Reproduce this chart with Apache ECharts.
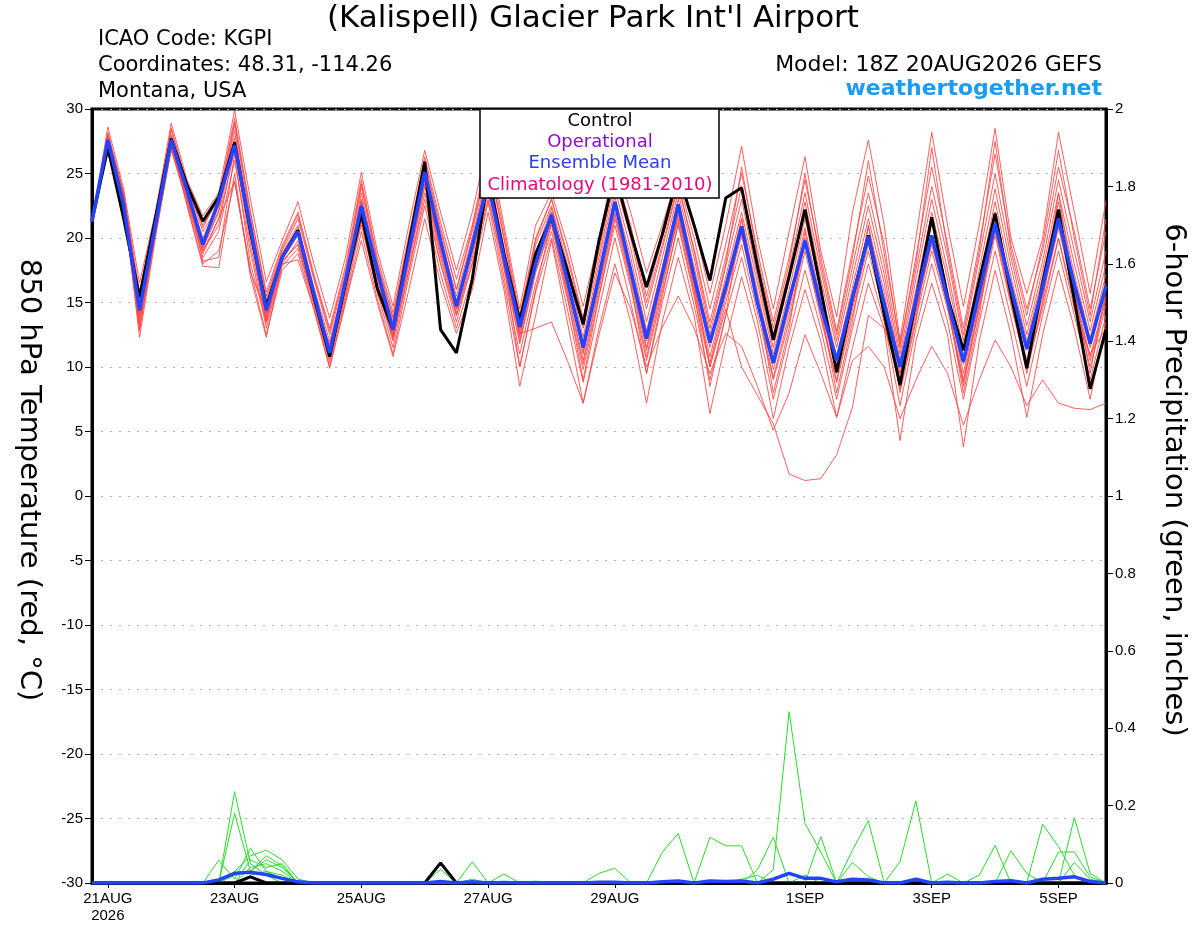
<html>
<head>
  <meta charset="utf-8">
  <title>KGPI GEFS 850 hPa</title>
  <script src="https://cdn.jsdelivr.net/npm/echarts@6/dist/echarts.min.js"></script>
</head>
<body style="margin:0;background:#fff;">
<div id="main" style="width:1200px;height:927px;"></div>
<script>
  // 6-hourly forecast times, 18Z 20AUG to 18Z 5SEP
  var times = [
    '18Z20AUG',
    '00Z21AUG','06Z21AUG','12Z21AUG','18Z21AUG',
    '00Z22AUG','06Z22AUG','12Z22AUG','18Z22AUG',
    '00Z23AUG','06Z23AUG','12Z23AUG','18Z23AUG',
    '00Z24AUG','06Z24AUG','12Z24AUG','18Z24AUG',
    '00Z25AUG','06Z25AUG','12Z25AUG','18Z25AUG',
    '00Z26AUG','06Z26AUG','12Z26AUG','18Z26AUG',
    '00Z27AUG','06Z27AUG','12Z27AUG','18Z27AUG',
    '00Z28AUG','06Z28AUG','12Z28AUG','18Z28AUG',
    '00Z29AUG','06Z29AUG','12Z29AUG','18Z29AUG',
    '00Z30AUG','06Z30AUG','12Z30AUG','18Z30AUG',
    '00Z31AUG','06Z31AUG','12Z31AUG','18Z31AUG',
    '00Z1SEP','06Z1SEP','12Z1SEP','18Z1SEP',
    '00Z2SEP','06Z2SEP','12Z2SEP','18Z2SEP',
    '00Z3SEP','06Z3SEP','12Z3SEP','18Z3SEP',
    '00Z4SEP','06Z4SEP','12Z4SEP','18Z4SEP',
    '00Z5SEP','06Z5SEP','12Z5SEP','18Z5SEP'
  ];

  var tickLabels = {
    '00Z21AUG': '21AUG\n2026',
    '00Z23AUG': '23AUG',
    '00Z25AUG': '25AUG',
    '00Z27AUG': '27AUG',
    '00Z29AUG': '29AUG',
    '00Z1SEP': '1SEP',
    '00Z3SEP': '3SEP',
    '00Z5SEP': '5SEP'
  };

  // 850 hPa temperature (C)
  var tempMean = [21.3,
    27.6,22.5,14.4,21.0, 27.6,23.7,19.5,22.9, 27.2,20.8,14.4,18.5, 20.5,15.7,11.1,16.7,
    22.5,17.5,12.9,19.0, 25.1,19.8,14.7,19.4, 24.3,18.5,13.1,18.0, 21.8,16.7,11.5,17.0,
    22.8,17.5,12.2,17.3, 22.6,17.0,11.9,16.2, 20.9,15.0,10.3,15.2, 19.8,14.7,10.5,15.4,
    20.1,14.9,10.0,15.2, 20.2,15.2,10.4,15.8, 21.1,16.2,11.4,16.2, 21.5,16.4,11.8,16.3];

  var tempControl = [21.3,
    27.0,21.5,15.4,21.5, 27.7,24.1,21.3,23.2, 27.4,20.5,14.7,18.5, 20.6,15.5,10.8,16.5,
    21.9,16.1,12.9,19.5, 25.9,12.9,11.1,16.8, 24.8,18.8,13.6,18.8, 21.6,17.5,13.3,19.8,
    25.0,20.4,16.2,20.3, 25.0,21.0,16.7,23.1, 23.9,17.8,12.1,17.0, 22.2,16.0,9.6,15.4,
    20.2,14.1,8.6,15.2, 21.6,15.4,11.3,16.7, 21.9,15.7,9.9,16.5, 22.2,15.2,8.3,12.9];

  var tempMembers = [
    [21.3, 28.6,23.8,16.5,22.0, 28.9,24.5,21.7,23.5, 29.9,23.0,16.6,19.8, 22.8,18.0,13.8,18.5,
      25.1,19.0,14.7,21.0, 26.8,22.0,17.5,22.0, 27.5,21.0,14.5,21.0, 23.5,19.5,14.7,20.0,
      26.0,22.0,17.3,21.0, 25.0,21.0,15.7,21.0, 27.1,20.0,14.5,20.5, 26.3,19.0,13.9,22.0,
      27.6,21.0,12.1,20.0, 28.2,21.0,14.7,21.0, 28.5,20.0,15.7,20.0, 28.2,22.0,15.7,22.9],
    [21.3, 28.2,23.5,15.8,21.8, 28.5,24.2,21.0,23.0, 29.3,22.0,15.8,19.4, 22.0,17.2,13.0,17.8,
      24.5,18.5,14.2,20.2, 26.3,21.2,16.8,21.0, 26.8,20.5,14.0,20.0, 23.0,18.8,13.8,19.5,
      25.2,21.0,15.5,20.0, 24.5,20.0,14.5,19.5, 25.0,19.0,13.5,18.5, 24.5,18.5,12.8,19.0,
      24.8,19.5,11.5,18.5, 25.5,19.5,13.0,19.5, 26.5,19.5,14.5,19.0, 25.5,20.5,14.5,20.5],
    [21.3, 27.9,23.2,15.0,21.5, 28.0,24.0,20.5,22.5, 28.8,21.5,15.2,19.0, 21.5,16.8,12.5,17.2,
      24.0,18.0,13.8,19.8, 25.8,20.5,16.0,20.5, 26.0,20.0,13.5,19.5, 22.5,18.0,13.0,18.5,
      24.5,20.0,14.5,19.2, 24.0,19.2,13.5,18.5, 24.0,18.0,12.5,17.5, 23.5,17.5,12.0,17.8,
      23.5,18.0,11.0,17.5, 24.0,18.5,12.0,18.5, 25.0,18.5,13.2,18.2, 24.5,19.0,13.5,19.0],
    [21.3, 27.6,23.0,14.6,21.2, 27.7,23.7,20.0,22.8, 28.3,21.0,14.8,18.8, 21.0,16.2,12.0,16.8,
      23.5,17.6,13.5,19.3, 25.3,20.0,15.5,20.0, 25.5,19.3,13.2,18.8, 22.3,17.5,12.3,18.0,
      23.8,19.2,13.5,18.5, 23.5,18.5,12.5,17.8, 23.0,17.0,11.5,16.8, 22.8,16.8,11.5,17.0,
      22.5,17.2,10.5,16.8, 23.0,17.5,11.3,17.5, 23.8,17.8,12.5,17.5, 23.5,18.0,12.8,18.0],
    [21.3, 27.3,22.8,14.0,21.0, 27.5,23.5,19.6,22.5, 27.8,20.5,14.2,18.5, 20.6,15.8,11.5,16.5,
      23.0,17.2,13.0,19.0, 25.0,19.5,15.0,19.5, 25.0,18.8,12.8,18.5, 22.0,17.0,11.8,17.5,
      23.2,18.5,12.8,17.8, 23.0,17.8,12.0,17.0, 22.0,16.5,11.0,16.0, 21.5,16.0,10.8,16.2,
      21.5,16.5,10.0,16.0, 22.0,16.8,10.8,16.8, 22.8,17.0,12.0,17.0, 22.8,17.2,12.2,17.2],
    [21.3, 27.0,22.6,13.5,20.7, 27.2,23.3,19.2,22.0, 27.3,20.0,13.8,18.3, 20.2,15.4,11.0,16.0,
      22.5,16.8,12.5,18.5, 24.5,19.0,14.5,19.0, 24.5,18.2,12.3,18.0, 21.5,16.5,11.2,17.0,
      22.5,17.8,12.0,17.2, 22.5,17.0,11.5,16.5, 21.5,15.8,10.5,15.2, 20.8,15.2,10.2,15.5,
      20.8,15.8,9.5,15.2, 21.2,16.0,10.2,16.0, 22.0,16.2,11.3,16.5, 22.0,16.5,11.5,16.5],
    [21.3, 26.8,22.5,13.0,20.5, 27.0,23.0,18.8,21.5, 26.8,19.5,13.4,18.0, 19.8,15.0,10.6,15.6,
      22.0,16.3,12.0,18.0, 24.0,18.5,14.0,18.5, 24.0,17.6,11.8,17.3, 21.0,16.0,10.5,16.3,
      22.0,17.0,11.3,16.5, 22.0,16.3,10.8,15.8, 20.5,15.0,9.8,14.5, 20.0,14.5,9.5,14.8,
      20.0,15.0,9.0,14.5, 20.2,15.3,9.5,15.3, 21.2,15.5,10.5,15.8, 21.0,15.8,10.8,15.5],
    [21.3, 26.6,22.5,12.8,20.2, 26.8,22.8,18.5,20.5, 26.0,19.0,13.0,17.8, 19.2,14.8,10.3,15.3,
      21.3,15.8,11.5,17.5, 23.5,18.0,13.5,18.0, 23.5,17.0,11.0,16.5, 20.5,15.3,9.8,15.5,
      21.0,16.2,10.5,15.8, 21.0,15.5,10.0,15.0, 19.5,14.2,9.0,13.5, 19.0,13.8,8.8,14.0,
      19.0,14.2,8.3,13.8, 19.0,14.5,8.8,14.5, 20.2,14.8,9.8,15.0, 20.0,15.0,10.0,14.8],
    [21.3, 26.8,22.7,12.3,20.0, 27.0,22.6,18.0,19.0, 24.4,17.5,12.5,17.5, 18.8,14.5,10.0,15.0,
      20.5,15.3,11.0,17.0, 22.5,17.2,13.0,17.0, 22.8,16.5,10.0,15.8, 20.0,14.5,8.8,14.5,
      20.0,15.0,9.5,15.0, 20.0,14.8,9.0,14.0, 18.5,13.5,7.5,12.5, 17.5,13.0,7.5,13.0,
      18.0,13.5,7.0,13.0, 18.0,13.5,7.5,13.5, 19.0,13.8,8.5,14.0, 19.0,14.0,9.0,14.0],
    [21.3, 27.2,22.9,13.2,20.5, 27.5,22.5,17.8,17.7, 25.0,17.0,12.3,18.0, 18.3,14.5,9.9,15.0,
      19.8,15.0,10.8,16.0, 21.5,16.5,12.6,16.0, 22.0,16.0,8.5,14.0, 19.8,13.5,7.2,13.0,
      18.0,13.5,7.2,13.5, 18.5,14.0,6.4,12.0, 17.0,12.5,6.0,11.5, 16.0,12.0,6.1,11.5,
      16.5,13.0,4.3,12.0, 16.5,12.5,3.8,12.0, 17.5,12.5,6.1,12.5, 17.5,13.0,7.5,13.5],
    [21.3, 27.5,23.3,14.2,21.0, 27.9,23.6,19.0,21.0, 27.0,21.0,14.0,18.7, 20.8,16.0,11.3,16.3,
      23.0,17.0,12.3,18.8, 24.8,19.5,14.8,19.3, 25.3,18.5,12.5,17.8, 22.0,16.8,11.0,16.8,
      22.8,17.5,11.5,16.8, 21.5,16.5,10.0,14.5, 10.0,7.8,5.6,1.7, 1.2,1.35,3.2,6.9,
      14.0,13.0,9.5,14.5, 19.5,14.8,9.0,15.0, 20.5,15.0,10.0,14.5, 20.0,14.5,11.0,13.0],
    [21.3, 27.0,23.0,14.8,21.2, 27.3,23.0,19.0,21.5, 24.4,17.3,14.3,18.2, 19.5,15.0,11.8,16.2,
      21.0,16.0,12.2,17.5, 23.0,18.0,14.0,18.0, 23.0,17.9,12.6,13.0, 13.5,10.5,7.2,12.5,
      17.3,14.5,10.0,13.1, 15.5,13.0,9.5,12.6, 11.6,8.5,5.1,8.0, 12.5,9.5,6.1,10.5,
      11.6,10.0,6.0,9.0, 11.6,9.5,5.5,9.0, 12.1,10.0,7.0,9.0, 7.2,6.8,6.7,7.2],
    [21.3, 28.0,23.4,15.5,21.6, 28.4,24.1,20.8,23.2, 29.0,22.0,15.5,19.2, 21.8,17.0,12.8,17.5,
      24.2,18.2,13.8,20.0, 26.0,20.8,16.0,20.8, 26.2,20.0,13.8,19.8, 23.0,18.5,13.5,19.0,
      25.0,20.5,15.0,19.5, 24.2,19.0,13.0,18.0, 25.5,18.5,13.0,18.0, 25.0,18.0,12.5,18.5,
      26.0,18.8,11.8,18.0, 27.0,19.0,12.5,19.0, 27.5,19.0,14.0,19.5, 26.8,20.0,14.0,21.5],
    [21.3, 27.1,22.7,13.8,20.8, 27.4,23.2,19.3,22.2, 27.5,20.2,13.6,18.2, 19.5,15.2,10.8,15.8,
      22.2,16.5,12.3,18.3, 24.2,18.8,14.2,18.8, 24.2,17.8,12.0,17.5, 21.2,15.8,10.2,16.0,
      21.8,16.8,10.8,16.2, 21.8,16.0,10.3,15.5, 20.2,14.8,9.2,14.0, 19.5,14.0,9.0,14.5,
      19.5,14.8,8.5,14.2, 19.8,14.8,8.5,14.8, 20.8,15.2,10.2,15.5, 20.8,15.5,10.5,15.2],
    [21.3, 27.8,23.1,14.3,21.3, 27.8,23.8,18.2,18.5, 26.5,18.0,13.5,18.6, 20.3,15.6,11.2,16.2,
      22.8,17.0,12.7,18.7, 24.7,19.2,14.6,19.2, 24.8,18.0,10.0,16.0, 21.2,15.5,9.0,15.5,
      21.5,16.5,9.5,15.5, 21.2,15.8,8.5,14.0, 21.5,15.5,8.0,13.0, 20.5,14.5,8.0,13.5,
      21.0,15.0,8.0,13.5, 21.5,15.0,8.0,14.0, 22.0,15.5,9.5,15.0, 23.5,16.0,9.5,16.0]
  ];

  // 6-hour precipitation (inches)
  var precipMean = [0,
    0,0,0,0, 0,0,0,0.008, 0.025,0.028,0.022,0.012, 0.003,0,0,0,
    0,0,0,0, 0,0.004,0,0.003, 0,0.001,0,0, 0,0,0,0.002,
    0.002,0,0,0.003, 0.005,0,0.005,0.004, 0.005,0,0.01,0.025, 0.012,0.012,0.003,0.01,
    0.008,0,0,0.01, 0,0.002,0,0, 0.004,0.006,0,0.01, 0.012,0.016,0.004,0];

  var precipControl = [0,
    0,0,0,0, 0,0,0,0, 0,0.016,0,0, 0,0,0,0,
    0,0,0,0, 0,0.052,0,0, 0,0,0,0, 0,0,0,0,
    0,0,0,0, 0,0,0,0, 0,0,0,0, 0,0,0,0,
    0,0,0,0, 0,0,0,0, 0,0,0,0, 0,0,0,0];

  var precipMembers = [
    [0, 0,0,0,0, 0,0,0,0, 0.236,0.05,0.02,0, 0,0,0,0,
      0,0,0,0, 0,0,0,0, 0,0,0,0, 0,0,0,0,
      0,0,0,0, 0,0,0,0, 0,0,0.034,0.443, 0.154,0.08,0,0,
      0,0,0,0, 0,0,0,0, 0,0,0,0, 0,0,0,0],
    [0, 0,0,0,0, 0,0,0,0, 0.18,0.03,0.06,0.04, 0,0,0,0,
      0,0,0,0, 0,0,0,0, 0,0,0,0, 0,0,0,0,
      0,0,0,0.08, 0.128,0,0.118,0.096, 0.096,0,0,0, 0,0,0,0,
      0,0,0,0, 0,0,0,0, 0,0,0,0, 0,0,0,0],
    [0, 0,0,0,0, 0,0,0,0.059, 0.01,0.09,0.03,0.02, 0,0,0,0,
      0,0,0,0, 0,0,0,0, 0,0,0,0, 0,0,0,0,
      0,0,0,0, 0,0,0,0, 0,0,0,0, 0,0,0,0.085,
      0.161,0,0,0, 0,0,0,0, 0,0,0,0, 0,0,0,0],
    [0, 0,0,0,0, 0,0,0,0, 0.03,0.07,0.085,0.06, 0.01,0,0,0,
      0,0,0,0, 0,0,0,0, 0,0,0,0, 0,0,0,0,
      0,0,0,0, 0,0,0,0, 0,0,0,0, 0,0,0,0,
      0,0,0.055,0.212, 0,0,0,0, 0,0,0,0, 0,0.169,0.025,0],
    [0, 0,0,0,0, 0,0,0,0, 0,0.04,0.05,0.03, 0,0,0,0,
      0,0,0,0, 0,0.035,0,0.055, 0,0.023,0,0, 0,0,0,0,
      0,0,0,0, 0,0,0,0, 0,0.034,0.118,0, 0,0,0,0,
      0,0,0,0, 0,0,0,0, 0,0,0,0.152, 0.094,0.02,0,0],
    [0, 0,0,0,0, 0,0,0,0, 0,0.06,0.04,0.05, 0,0,0,0,
      0,0,0,0, 0,0,0,0, 0,0,0,0.005, 0,0,0,0.025,
      0.038,0,0,0, 0,0,0,0, 0,0,0,0, 0,0.12,0,0,
      0,0,0,0, 0,0,0,0.02, 0.097,0,0,0, 0,0,0,0],
    [0, 0,0,0,0, 0,0,0,0, 0.02,0.03,0.07,0.045, 0,0,0,0,
      0,0,0,0, 0,0,0,0, 0,0,0,0, 0,0,0,0,
      0,0,0,0, 0,0,0,0, 0,0,0,0, 0,0,0,0.053,
      0.016,0,0,0, 0,0,0,0, 0,0.083,0.025,0, 0.08,0.08,0.016,0],
    [0, 0,0,0,0, 0,0,0,0, 0,0.02,0.03,0.01, 0,0,0,0,
      0,0,0,0, 0,0,0,0.01, 0,0,0,0, 0,0,0,0,
      0,0,0,0, 0,0,0,0, 0.01,0.02,0,0, 0.02,0,0,0,
      0,0,0,0, 0,0.023,0,0, 0,0,0,0, 0,0.053,0.01,0]
  ];

  var FONT = '"Liberation Sans", Arial, sans-serif';
  var WIDE = '"DejaVu Sans", sans-serif';
  var myChart = echarts.init(document.getElementById('main'));

  var series = [];
  tempMembers.forEach(function (m, k) {
    series.push({
      name: 'member' + k, type: 'line', data: m, yAxisIndex: 0,
      symbol: 'none', silent: true, z: 2,
      lineStyle: {color: '#ff4444', width: 1, opacity: 0.85}
    });
  });
  precipMembers.forEach(function (m, k) {
    series.push({
      name: 'precip' + k, type: 'line', data: m, yAxisIndex: 1,
      symbol: 'none', silent: true, z: 3,
      lineStyle: {color: '#2bdc2b', width: 1}
    });
  });
  series.push({
    name: 'Control', type: 'line', data: tempControl, yAxisIndex: 0,
    symbol: 'none', z: 4, lineStyle: {color: '#000', width: 3}
  });
  series.push({
    name: 'Control precip', type: 'line', data: precipControl, yAxisIndex: 1,
    symbol: 'none', z: 4, lineStyle: {color: '#000', width: 3}
  });
  series.push({
    name: 'Ensemble Mean', type: 'line', data: tempMean, yAxisIndex: 0,
    symbol: 'none', z: 5, lineStyle: {color: '#2244ff', width: 3.5}
  });
  series.push({
    name: 'Mean precip', type: 'line', data: precipMean, yAxisIndex: 1,
    symbol: 'none', z: 5, lineStyle: {color: '#2244ff', width: 3.5}
  });

  var option = {
    animation: false,
    backgroundColor: '#fff',
    grid: {left: 92, right: 94, top: 109, bottom: 44, show: true,
      borderColor: '#000', borderWidth: 3, backgroundColor: 'transparent'},
    xAxis: {
      type: 'category', data: times, boundaryGap: false,
      axisLine: {onZero: false, lineStyle: {color: '#000', width: 3}},
      axisTick: {show: true, length: 5, lineStyle: {color: '#000', width: 1},
        interval: function (i, v) { return tickLabels[v] !== undefined; }},
      axisLabel: {
        interval: function (i, v) { return tickLabels[v] !== undefined; },
        formatter: function (v) { return tickLabels[v] || ''; },
        color: '#000', fontFamily: FONT, fontSize: 15, margin: 7, lineHeight: 17
      },
      splitLine: {show: false}
    },
    yAxis: [
      {
        type: 'value', min: -30, max: 30, interval: 5, position: 'left',
        axisLine: {show: true, onZero: false, lineStyle: {color: '#000', width: 3}},
        axisTick: {show: true, length: 7, lineStyle: {color: '#000', width: 1}},
        axisLabel: {color: '#000', fontFamily: FONT, fontSize: 15, margin: 9},
        splitLine: {show: true, lineStyle: {color: '#b0b0b0', width: 1.2, type: [2, 7]}}
      },
      {
        type: 'value', min: 0, max: 2, interval: 0.2, position: 'right',
        axisLine: {show: true, onZero: false, lineStyle: {color: '#000', width: 3}},
        axisTick: {show: true, length: 7, lineStyle: {color: '#000', width: 1}},
        axisLabel: {color: '#000', fontFamily: FONT, fontSize: 15, margin: 9},
        splitLine: {show: false}
      }
    ],
    graphic: [
      {type: 'text', x: 593, y: 19, z: 20,
        style: {text: "(Kalispell) Glacier Park Int'l Airport", fill: '#000',
          font: '31px ' + WIDE, textAlign: 'center', textVerticalAlign: 'middle'}},
      {type: 'text', x: 98, y: 40, z: 20,
        style: {text: 'ICAO Code: KGPI', fill: '#000', font: '21px ' + WIDE,
          textVerticalAlign: 'middle'}},
      {type: 'text', x: 98, y: 66, z: 20,
        style: {text: 'Coordinates: 48.31, -114.26', fill: '#000', font: '21px ' + WIDE,
          textVerticalAlign: 'middle'}},
      {type: 'text', x: 98, y: 92, z: 20,
        style: {text: 'Montana, USA', fill: '#000', font: '21px ' + WIDE,
          textVerticalAlign: 'middle'}},
      {type: 'text', x: 1102, y: 65, z: 20,
        style: {text: 'Model: 18Z 20AUG2026 GEFS', fill: '#000', font: '22px ' + WIDE,
          textAlign: 'right', textVerticalAlign: 'middle'}},
      {type: 'text', x: 1102, y: 89, z: 20,
        style: {text: 'weathertogether.net', fill: '#1a9cf5', font: 'bold 22px ' + WIDE,
          textAlign: 'right', textVerticalAlign: 'middle'}},
      {type: 'text', x: 29, y: 480, rotation: -Math.PI / 2, z: 20,
        style: {text: '850 hPa Temperature (red, \u00B0C)', fill: '#000', font: '29px ' + WIDE,
          textAlign: 'center', textVerticalAlign: 'middle'}},
      {type: 'text', x: 1174, y: 480, rotation: -Math.PI / 2, z: 20,
        style: {text: '6-hour Precipitation (green, inches)', fill: '#000', font: '29px ' + WIDE,
          textAlign: 'center', textVerticalAlign: 'middle'}},
      {type: 'group', x: 480, y: 109, z: 30, children: [
        {type: 'rect', shape: {x: 0, y: 0, width: 239, height: 89}, z: 30,
          style: {fill: '#fff', stroke: '#000', lineWidth: 1.5}},
        {type: 'text', x: 120, y: 12, z: 31,
          style: {text: 'Control', fill: '#000', font: '18px ' + WIDE,
            textAlign: 'center', textVerticalAlign: 'middle'}},
        {type: 'text', x: 120, y: 33, z: 31,
          style: {text: 'Operational', fill: '#8a0ad6', font: '18px ' + WIDE,
            textAlign: 'center', textVerticalAlign: 'middle'}},
        {type: 'text', x: 120, y: 54, z: 31,
          style: {text: 'Ensemble Mean', fill: '#2a3cf5', font: '18px ' + WIDE,
            textAlign: 'center', textVerticalAlign: 'middle'}},
        {type: 'text', x: 120, y: 76, z: 31,
          style: {text: 'Climatology (1981-2010)', fill: '#e8087e', font: '18px ' + WIDE,
            textAlign: 'center', textVerticalAlign: 'middle'}}
      ]}
    ],
    series: series
  };

  myChart.setOption(option);
</script>
</body>
</html>
